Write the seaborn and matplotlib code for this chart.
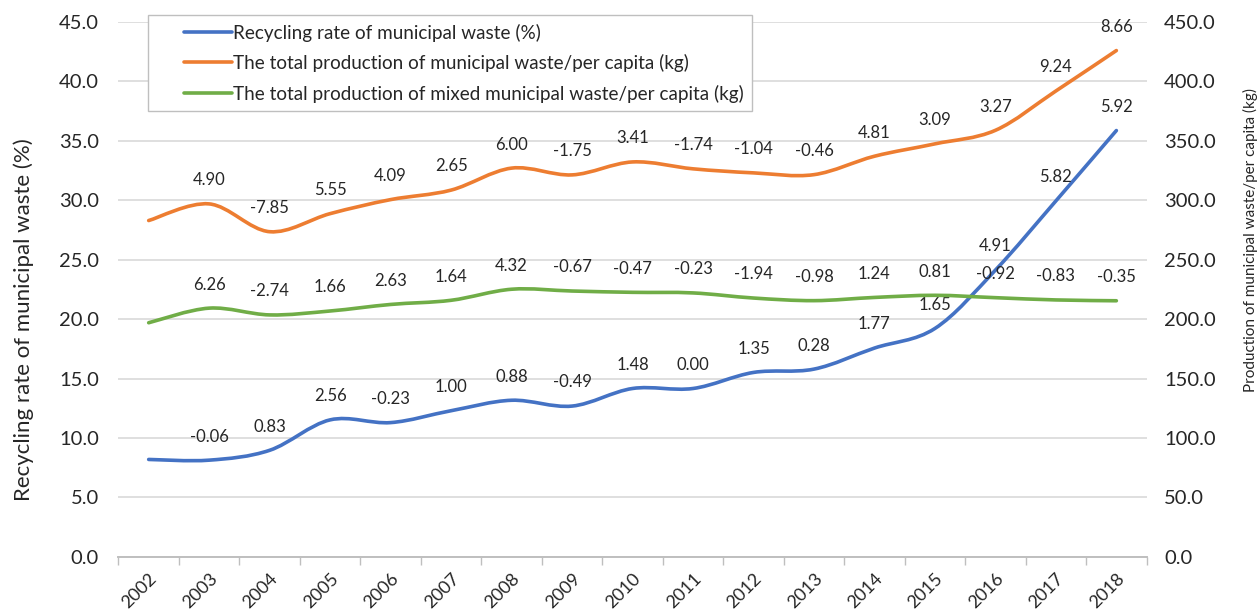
import numpy as np
import matplotlib.pyplot as plt
import seaborn as sns
from matplotlib.path import Path
from matplotlib.patches import PathPatch
from matplotlib.lines import Line2D
from matplotlib.ticker import FormatStrFormatter, MultipleLocator

# Data
years = ["2002", "2003", "2004", "2005", "2006", "2007", "2008", "2009", "2010",
         "2011", "2012", "2013", "2014", "2015", "2016", "2017", "2018"]
recycling_rate = [8.20, 8.14, 8.97, 11.53, 11.30, 12.30, 13.18, 12.69, 14.17,
                  14.17, 15.52, 15.80, 17.57, 19.22, 24.13, 29.95, 35.87]
total_waste = [283.0, 297.0, 273.6, 288.8, 300.6, 308.6, 327.1, 321.4, 332.3,
               326.5, 323.1, 321.6, 337.1, 347.5, 358.9, 392.0, 426.0]
mixed_waste = [197.0, 209.3, 203.6, 206.9, 212.4, 215.9, 225.2, 223.7, 222.6,
               222.1, 217.8, 215.6, 218.3, 220.1, 218.1, 216.2, 215.5]

# year-on-year change labels (2003..2018)
recycling_labels = ["-0.06", "0.83", "2.56", "-0.23", "1.00", "0.88", "-0.49", "1.48",
                    "0.00", "1.35", "0.28", "1.77", "1.65", "4.91", "5.82", "5.92"]
total_labels = ["4.90", "-7.85", "5.55", "4.09", "2.65", "6.00", "-1.75", "3.41",
                "-1.74", "-1.04", "-0.46", "4.81", "3.09", "3.27", "9.24", "8.66"]
mixed_labels = ["6.26", "-2.74", "1.66", "2.63", "1.64", "4.32", "-0.67", "-0.47",
                "-0.23", "-1.94", "-0.98", "1.24", "0.81", "-0.92", "-0.83", "-0.35"]

names = ["Recycling rate of municipal waste (%)",
         "The total production of municipal waste/per capita (kg)",
         "The total production of mixed municipal waste/per capita (kg)"]
colors = ["#4472C4", "#ED7D31", "#70AD47"]
text_color = "#262626"

sns.set_theme(style="white")
plt.rcParams["font.family"] = ["Lato", "DejaVu Sans"]


def smooth_path(xy):
    # Excel-like smoothed line: cubic Bezier segments through the points
    pts = np.asarray(xy, dtype=float)
    n = len(pts)
    verts = [pts[0]]
    codes = [Path.MOVETO]
    for i in range(n - 1):
        p0 = pts[max(i - 1, 0)]
        p1 = pts[i]
        p2 = pts[i + 1]
        p3 = pts[min(i + 2, n - 1)]
        verts += [p1 + (p2 - p0) / 6, p2 - (p3 - p1) / 6, p2]
        codes += [Path.CURVE4] * 3
    return Path(verts, codes)


def draw_series(ax, values, color, labels):
    x = np.arange(len(values))
    sns.lineplot(x=x, y=values, ax=ax, color=color, legend=False)
    line = ax.lines[-1]
    line.set_visible(False)
    ax.add_patch(PathPatch(smooth_path(line.get_xydata()), fill=False,
                           edgecolor=color, lw=2.6, capstyle="round"))
    for i, lab in enumerate(labels, start=1):
        ax.annotate(lab, (i, values[i]), xytext=(0, 17), textcoords="offset points",
                    ha="center", va="center", fontsize=12, color=text_color)


class InsetLineHandler:
    # legend line that sits in the right part of the handle box
    def legend_artist(self, legend, orig_handle, fontsize, handlebox):
        x0, y0 = -handlebox.xdescent, -handlebox.ydescent
        w, h = handlebox.width, handlebox.height
        line = Line2D([x0 + 0.36 * w, x0 + w], [y0 + h / 2] * 2,
                      color=orig_handle.get_color(), lw=orig_handle.get_linewidth(),
                      transform=handlebox.get_transform())
        handlebox.add_artist(line)
        return line


fig, ax = plt.subplots(figsize=(12.6, 6.12), dpi=100)
fig.subplots_adjust(left=0.094, right=0.910, bottom=0.090, top=0.964)
ax2 = ax.twinx()

draw_series(ax, recycling_rate, colors[0], recycling_labels)
draw_series(ax2, total_waste, colors[1], total_labels)
draw_series(ax2, mixed_waste, colors[2], mixed_labels)

ax.set_xlim(-0.5, len(years) - 0.5)
ax.set_ylim(0, 45)
ax2.set_ylim(0, 450)
ax.yaxis.set_major_locator(MultipleLocator(5))
ax2.yaxis.set_major_locator(MultipleLocator(50))
ax.yaxis.set_major_formatter(FormatStrFormatter("%.1f"))
ax2.yaxis.set_major_formatter(FormatStrFormatter("%.1f"))

ax.set_xticks(np.arange(len(years)))
ax.set_xticklabels(years, rotation=45, ha="right", rotation_mode="anchor")
ax.set_xticks(np.arange(len(years) + 1) - 0.5, minor=True)
ax.tick_params(axis="x", which="major", length=0, labelsize=13, pad=10, colors=text_color)
ax.tick_params(axis="x", which="minor", length=6, color="#BFBFBF", width=1, direction="out", bottom=True)
ax.tick_params(axis="y", length=0, labelsize=14.5, pad=14, colors=text_color)
ax2.tick_params(axis="y", length=0, labelsize=14.5, pad=12.5, colors=text_color)

ax.grid(axis="y", color="#D9D9D9", lw=1.2)
for a in (ax, ax2):
    for s in ["top", "left", "right"]:
        a.spines[s].set_visible(False)
    a.spines["bottom"].set_color("#BFBFBF")
    a.set_xlabel("")

ax.set_ylabel("Recycling rate of municipal waste (%)", fontsize=16, color=text_color)
ax.yaxis.set_label_coords(-0.082, 0.443)
ax2.set_ylabel("Production of municipal waste/per capita (kg)", fontsize=11, color=text_color)
ax2.yaxis.set_label_coords(1.094, 0.593)

handles = [Line2D([], [], color=c, lw=2.6) for c in colors]
fig.legend(handles, names, loc="upper left", bbox_to_anchor=(148 / 1260, 1 - 15 / 612),
           handler_map={Line2D: InsetLineHandler()},
           frameon=True, fancybox=False, edgecolor="#BFBFBF", framealpha=1,
           fontsize=13.6, handlelength=4.0, handletextpad=0.05, labelspacing=0.66,
           borderpad=0.45, borderaxespad=0)

fig.savefig("out.png", dpi=100)
